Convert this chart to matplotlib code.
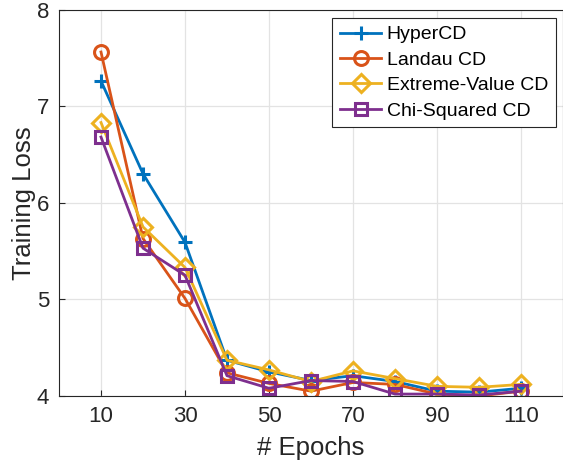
import matplotlib
matplotlib.use("Agg")
import matplotlib.pyplot as plt

epochs = [10, 20, 30, 40, 50, 60, 70, 80, 90, 100, 110]
hypercd = [7.26, 6.30, 5.59, 4.37, 4.25, 4.16, 4.21, 4.15, 4.05, 4.04, 4.08]
landau = [7.56, 5.63, 5.01, 4.24, 4.13, 4.05, 4.14, 4.12, 4.02, 4.00, 4.05]
extreme = [6.83, 5.75, 5.33, 4.37, 4.27, 4.15, 4.26, 4.18, 4.10, 4.09, 4.12]
chisq = [6.68, 5.53, 5.25, 4.21, 4.08, 4.16, 4.15, 4.02, 4.02, 4.01, 4.05]
labels = ["HyperCD", "Landau CD", "Extreme-Value CD", "Chi-Squared CD"]
xticks = [10, 30, 50, 70, 90, 110]
yticks = [4, 5, 6, 7, 8]

plt.rcParams['font.family'] = ['Liberation Sans', 'DejaVu Sans']

fig = plt.figure(figsize=(5.63, 4.61), dpi=100)
ax = fig.add_axes([59/563, 1 - 396/461, 1 - 59/563, (396 - 9.5)/461])

colors = ['#0072BD', '#D95319', '#EDB120', '#7E2F8E']
markers = ['+', 'o', 'D', 's']
msizes = [10, 10, 9, 8.5]
series = [hypercd, landau, extreme, chisq]
for y, c, m, ms, lab in zip(series, colors, markers, msizes, labels):
    ax.plot(epochs, y, color=c, marker=m, markersize=ms, markerfacecolor='none',
            markeredgecolor=c, markeredgewidth=2.2, linewidth=2.0, label=lab)

ax.set_xlim(0, 120)
ax.set_ylim(4, 8)
ax.set_xticks(xticks)
ax.set_yticks(yticks)
ax.grid(True, color='#e3e3e3', linewidth=0.9)
ax.set_axisbelow(True)
ax.tick_params(direction='in', length=4, labelsize=16, colors='#262626', pad=7)
for s in ax.spines.values():
    s.set_color('#262626')
    s.set_linewidth(0.8)
ax.set_xlabel('# Epochs', fontsize=18.5, color='#262626', labelpad=7)
ax.set_ylabel('Training Loss', fontsize=18.5, color='#262626', labelpad=1)

leg = ax.legend(loc='upper right', bbox_to_anchor=(1 - 7/504, 1 - 8.5/386.5),
                bbox_transform=ax.transAxes,
                fontsize=14, frameon=True, fancybox=False, framealpha=1,
                edgecolor='#262626', handlelength=2.1, handletextpad=0.3,
                borderpad=0.4, labelspacing=0.4, borderaxespad=0)
leg.get_frame().set_linewidth(0.8)

fig.savefig('out.png', dpi=100)
